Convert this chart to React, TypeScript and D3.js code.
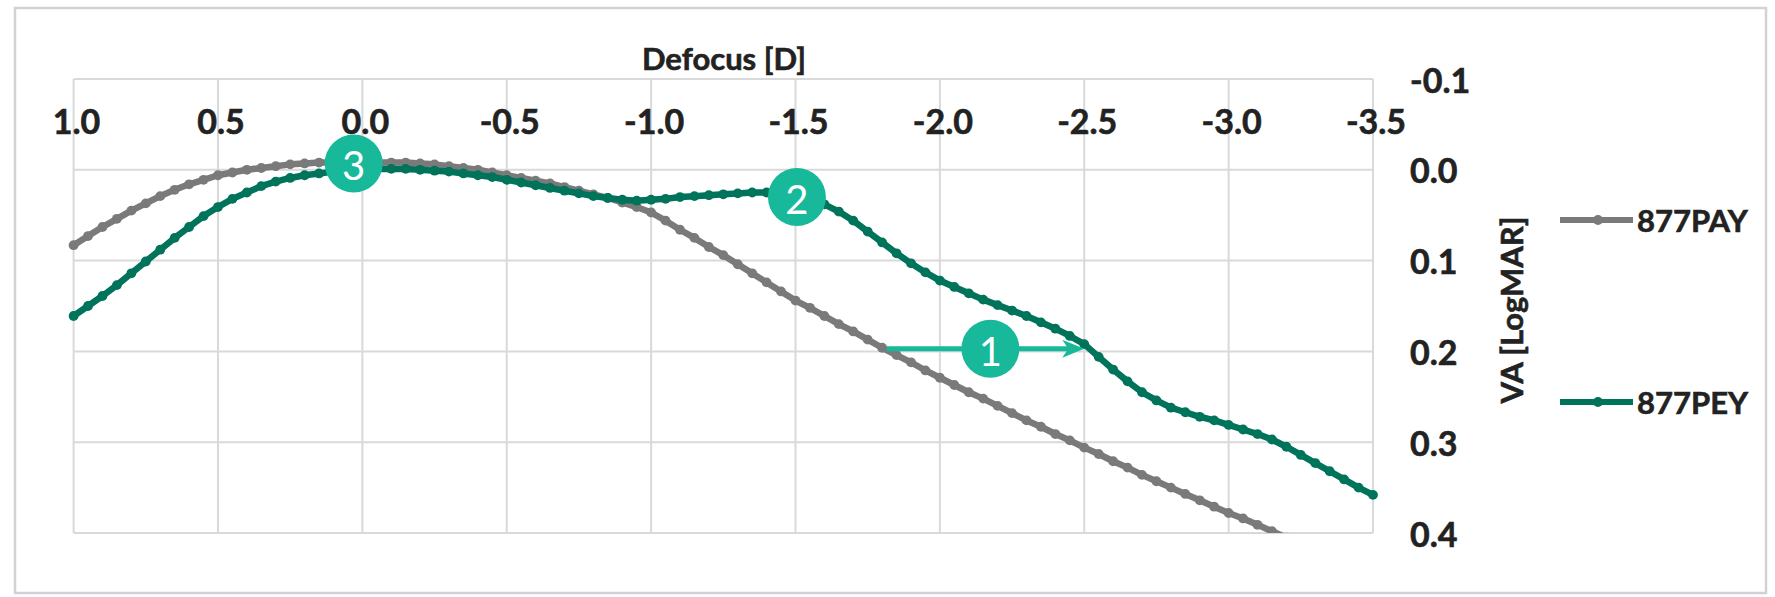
import * as d3 from 'd3';

// defocus grid, 0.05 D steps from +1.0 to -3.5
const defocus = d3.range(0, 91).map((i) => +(1 - i * 0.05).toFixed(2));

const pay = [
  0.083, 0.073, 0.063, 0.054, 0.045, 0.037, 0.029, 0.022, 0.016, 0.011,
  0.006, 0.003, 0.0, -0.002, -0.004, -0.006, -0.007, -0.008, -0.008, -0.009,
  -0.009, -0.008, -0.008, -0.008, -0.007, -0.006, -0.004, -0.002, 0.0, 0.003,
  0.006, 0.009, 0.012, 0.015, 0.019, 0.023, 0.027, 0.031, 0.036, 0.041,
  0.047, 0.056, 0.066, 0.075, 0.085, 0.094, 0.104, 0.114, 0.124, 0.134,
  0.144, 0.152, 0.161, 0.17, 0.178, 0.187, 0.196, 0.204, 0.212, 0.221,
  0.229, 0.237, 0.245, 0.252, 0.26, 0.268, 0.276, 0.283, 0.291, 0.298,
  0.306, 0.313, 0.321, 0.328, 0.336, 0.343, 0.35, 0.357, 0.364, 0.371,
  0.378, 0.384, 0.391, 0.398, 0.405,
];

const pey = [
  0.161, 0.15, 0.139, 0.127, 0.114, 0.101, 0.088, 0.075, 0.063, 0.051,
  0.041, 0.032, 0.025, 0.018, 0.013, 0.009, 0.006, 0.004, 0.002, 0.001,
  0.0, -0.001, -0.001, -0.001, 0.0, 0.001, 0.002, 0.004, 0.006, 0.008,
  0.011, 0.014, 0.017, 0.02, 0.023, 0.026, 0.029, 0.031, 0.033, 0.034,
  0.033, 0.032, 0.03, 0.029, 0.028, 0.027, 0.026, 0.025, 0.025, 0.025,
  0.027, 0.031, 0.038, 0.046, 0.056, 0.068, 0.08, 0.092, 0.103, 0.113,
  0.122, 0.129, 0.136, 0.143, 0.149, 0.155, 0.161, 0.168, 0.175, 0.183,
  0.192, 0.206, 0.22, 0.233, 0.245, 0.254, 0.262, 0.267, 0.272, 0.276,
  0.281, 0.286, 0.291, 0.297, 0.305, 0.314, 0.323, 0.332, 0.341, 0.35,
  0.358,
];

const xTicks = [1.0, 0.5, 0.0, -0.5, -1.0, -1.5, -2.0, -2.5, -3.0, -3.5];
const yTicks = [-0.1, 0.0, 0.1, 0.2, 0.3, 0.4];

const series = [
  { name: '877PAY', values: pay, color: '#7a7a7a' },
  { name: '877PEY', values: pey, color: '#00735b' },
];

// numbered callouts (data coordinates)
const callouts = [
  { label: '3', d: 0.03, va: -0.007 },
  { label: '2', d: -1.505, va: 0.03 },
  { label: '1', d: -2.175, va: 0.197 },
];
const arrow = { from: -1.816, to: -2.5, va: 0.197 };

const W = 1775;
const H = 597;
const plot = { left: 73.6, right: 1373, top: 79, bottom: 533 };
const FONT = 'Lato, "Open Sans", sans-serif';
const TEXT = '#222';
const ACCENT = '#17b99a';

const fmt = (v: number) => (Math.abs(v) < 1e-9 ? '0.0' : v.toFixed(1));

export default function App() {
  const x = d3.scaleLinear().domain([1, -3.5]).range([plot.left, plot.right]);
  const y = d3.scaleLinear().domain([-0.1, 0.4]).range([plot.top, plot.bottom]);

  const line = d3
    .line<number>()
    .x((_, i) => x(defocus[i]))
    .y((v) => y(v));

  const ax = x(arrow.to);
  const ay = y(arrow.va);

  return (
    <svg
      width={W}
      height={H}
      style={{ position: 'absolute', left: 0, top: 0, background: '#fff' }}
    >
      <defs>
        <clipPath id="plotClip">
          <rect
            x={plot.left - 8}
            y={plot.top}
            width={plot.right - plot.left + 16}
            height={plot.bottom - plot.top}
          />
        </clipPath>
      </defs>

      <rect x={15} y={8} width={1751} height={585} fill="#fff" stroke="#d2d2d2" strokeWidth={2.5} />

      {/* gridlines */}
      <g stroke="#d9d9d9" strokeWidth={2}>
        {xTicks.map((t) => (
          <line key={'gx' + t} x1={x(t)} x2={x(t)} y1={plot.top} y2={plot.bottom} />
        ))}
        {yTicks.map((t) => (
          <line key={'gy' + t} x1={plot.left} x2={plot.right} y1={y(t)} y2={y(t)} />
        ))}
      </g>

      {/* axis labels */}
      <g fontFamily={FONT} fontWeight="bold" fill={TEXT} stroke={TEXT} strokeWidth={0.6}>
        {xTicks.map((t) => (
          <text key={'tx' + t} x={x(t) + 3} y={120} fontSize={34} textAnchor="middle" dominantBaseline="central">
            {fmt(t)}
          </text>
        ))}
        {yTicks.map((t) => (
          <text key={'ty' + t} x={1410} y={y(t)} fontSize={34} dominantBaseline="central">
            {fmt(t)}
          </text>
        ))}
        <text x={724} y={58} fontSize={31} textAnchor="middle" dominantBaseline="central">
          Defocus [D]
        </text>
        <text
          transform={`translate(1511,310) rotate(-90)`}
          fontSize={31}
          textAnchor="middle"
          dominantBaseline="central"
        >
          VA [LogMAR]
        </text>
      </g>

      {/* series */}
      <g clipPath="url(#plotClip)">
        {series.map((s) => (
          <g key={s.name}>
            <path d={line(s.values) || ''} fill="none" stroke={s.color} strokeWidth={6.5} strokeLinejoin="round" />
            {s.values.map((v, i) => (
              <circle key={i} cx={x(defocus[i])} cy={y(v)} r={4.9} fill={s.color} />
            ))}
          </g>
        ))}
      </g>

      {/* legend */}
      <g fontFamily={FONT} fontWeight="bold" fill={TEXT} stroke={TEXT} strokeWidth={0.6}>
        {series.map((s, i) => {
          const ly = i === 0 ? 220 : 402;
          return (
            <g key={'lg' + s.name}>
              <line x1={1560} x2={1633} y1={ly} y2={ly} stroke={s.color} strokeWidth={6} />
              <circle cx={1598} cy={ly} r={5} fill={s.color} stroke="none" />
              <text x={1637} y={ly} fontSize={31} dominantBaseline="central">
                {s.name}
              </text>
            </g>
          );
        })}
      </g>

      {/* arrow 1 */}
      <line x1={x(arrow.from)} x2={ax - 12} y1={ay} y2={ay} stroke={ACCENT} strokeWidth={5} />
      <path d={`M${ax},${ay} L${ax - 22},${ay - 9} L${ax - 16},${ay} L${ax - 22},${ay + 9} Z`} fill={ACCENT} />

      {/* callouts */}
      {callouts.map((c) => (
        <g key={'c' + c.label}>
          <circle cx={x(c.d)} cy={y(c.va)} r={29} fill={ACCENT} />
          <text
            x={x(c.d)}
            y={y(c.va) + 2}
            fontFamily={FONT}
            fontSize={40}
            fill="#fff"
            textAnchor="middle"
            dominantBaseline="central"
          >
            {c.label}
          </text>
        </g>
      ))}
    </svg>
  );
}
